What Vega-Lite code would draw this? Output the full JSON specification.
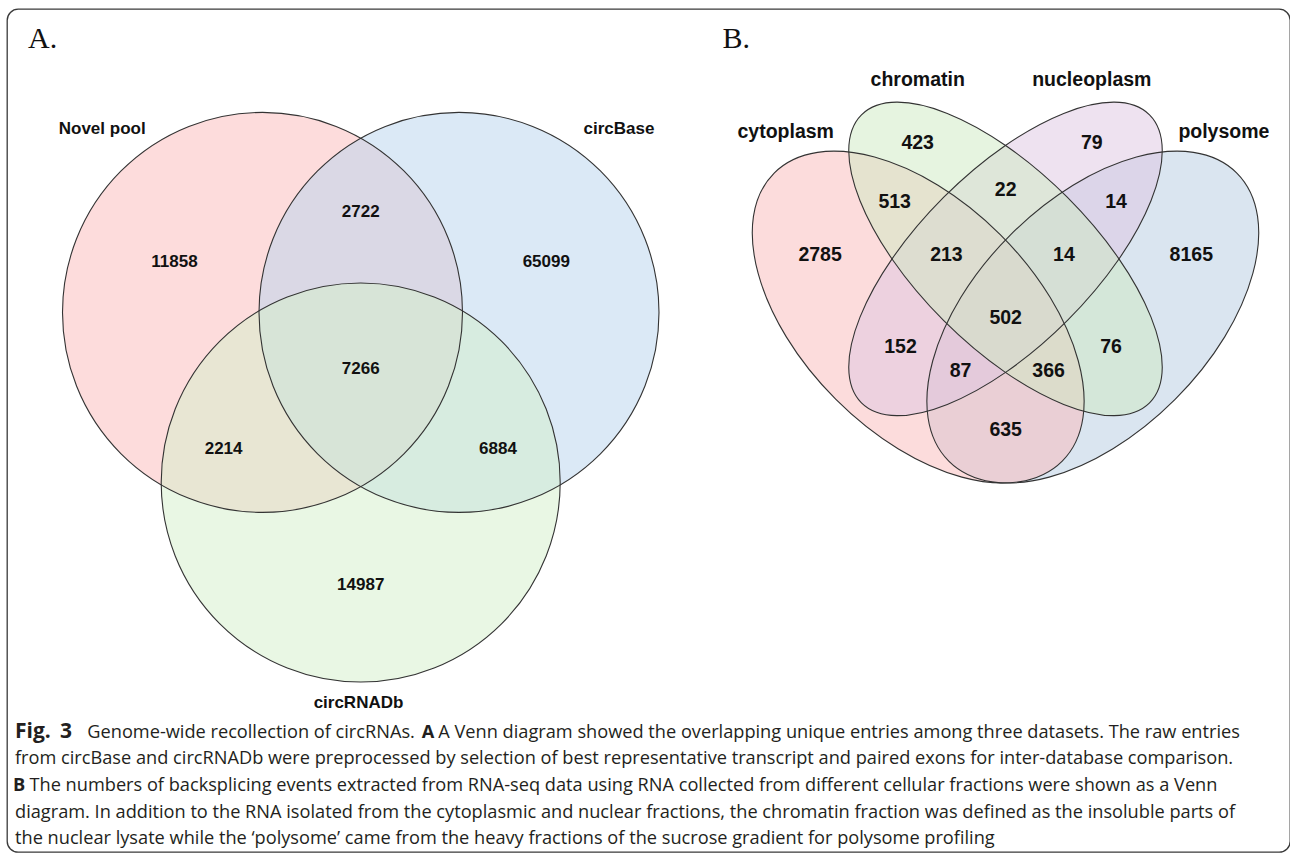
{
  "$schema": "https://vega.github.io/schema/vega-lite/v6.json",
  "width": 1290,
  "height": 856,
  "autosize": {"type": "fit", "contains": "padding"},
  "padding": {"left": 7, "top": 9, "right": 0, "bottom": 4},
  "background": "white",
  "config": {"view": {"stroke": "#3a3a3a", "strokeWidth": 1.3, "cornerRadius": 11}},
  "datasets": {
    "shapes": [
      {"set": "Novel pool", "kind": "circle", "x": 262.5, "y": 312.4, "a": 200, "rot": 0},
      {"set": "circBase", "kind": "circle", "x": 459, "y": 312.4, "a": 200, "rot": 0},
      {"set": "circRNADb", "kind": "circle", "x": 360.7, "y": 482.5, "a": 199.5, "rot": 0},
      {"set": "polysome", "kind": "outer", "x": 1092.8, "y": 317.1, "a": 203.7, "rot": 135},
      {"set": "cytoplasm", "kind": "outer", "x": 918.2, "y": 317.1, "a": 203.7, "rot": 45},
      {"set": "nucleoplasm", "kind": "inner", "x": 1005.5, "y": 258.9, "a": 203.7, "rot": 135},
      {"set": "chromatin", "kind": "inner", "x": 1005.5, "y": 258.9, "a": 203.7, "rot": 45}
    ],
    "labelsA": [
      {"t": "Novel pool", "x": 102.2, "y": 128.6},
      {"t": "circBase", "x": 619, "y": 128.6},
      {"t": "circRNADb", "x": 358.5, "y": 703},
      {"t": "11858", "x": 174.5, "y": 262.2},
      {"t": "2722", "x": 360.7, "y": 211.8},
      {"t": "65099", "x": 546.3, "y": 262.2},
      {"t": "7266", "x": 360.7, "y": 369},
      {"t": "2214", "x": 223.6, "y": 449.2},
      {"t": "6884", "x": 498, "y": 449.2},
      {"t": "14987", "x": 360.7, "y": 584.7}
    ],
    "labelsB": [
      {"t": "chromatin", "x": 917.7, "y": 80},
      {"t": "nucleoplasm", "x": 1091.8, "y": 80},
      {"t": "cytoplasm", "x": 785.7, "y": 131.7},
      {"t": "polysome", "x": 1223.9, "y": 131.7},
      {"t": "423", "x": 917.7, "y": 143.3},
      {"t": "79", "x": 1091.8, "y": 143.3},
      {"t": "22", "x": 1005.7, "y": 190},
      {"t": "513", "x": 894.7, "y": 201.7},
      {"t": "14", "x": 1116, "y": 201.7},
      {"t": "2785", "x": 820.1, "y": 255},
      {"t": "213", "x": 946.4, "y": 255},
      {"t": "14", "x": 1063.9, "y": 255},
      {"t": "8165", "x": 1191.3, "y": 255},
      {"t": "502", "x": 1005.7, "y": 318.3},
      {"t": "152", "x": 900.5, "y": 346.7},
      {"t": "76", "x": 1111, "y": 346.7},
      {"t": "87", "x": 960.6, "y": 370.7},
      {"t": "366", "x": 1048.6, "y": 370.7},
      {"t": "635", "x": 1005.7, "y": 430}
    ],
    "panels": [
      {"t": "A.", "x": 28, "y": 48},
      {"t": "B.", "x": 722.5, "y": 48}
    ],
    "capBig": [
      {"t": "Fig.", "x": 15, "y": 737.7},
      {"t": "3", "x": 60, "y": 737.7}
    ],
    "capBold": [
      {"t": "A", "x": 421.7, "y": 737.7},
      {"t": "B", "x": 13, "y": 791}
    ],
    "capReg": [
      {"t": "Genome-wide recollection of circRNAs.", "x": 87.3, "y": 737.7},
      {"t": "A Venn diagram showed the overlapping unique entries among three datasets. The raw entries", "x": 438.3, "y": 737.7},
      {"t": "from circBase and circRNADb were preprocessed by selection of best representative transcript and paired exons for inter-database comparison.", "x": 15, "y": 764.3},
      {"t": "The numbers of backsplicing events extracted from RNA-seq data using RNA collected from different cellular fractions were shown as a Venn", "x": 29.5, "y": 791},
      {"t": "diagram. In addition to the RNA isolated from the cytoplasmic and nuclear fractions, the chromatin fraction was defined as the insoluble parts of", "x": 15, "y": 817.7},
      {"t": "the nuclear lysate while the ‘polysome’ came from the heavy fractions of the sucrose gradient for polysome profiling", "x": 15, "y": 844.3}
    ]
  },
  "encoding": {
    "x": {"field": "x", "type": "quantitative", "scale": {"domain": [7, 1290], "nice": false, "zero": false}, "axis": null},
    "y": {"field": "y", "type": "quantitative", "scale": {"domain": [9, 852], "nice": false, "zero": false, "reverse": true}, "axis": null}
  },
  "layer": [
    {
      "data": {"name": "shapes"},
      "mark": {"type": "point", "filled": true, "opacity": 1, "fillOpacity": 0.5, "strokeWidth": 0},
      "encoding": {
        "size": {"field": "a", "type": "quantitative", "scale": {"type": "pow", "exponent": 2, "domain": [0, 300], "range": [0, 360000], "nice": false}, "legend": null},
        "angle": {"field": "rot", "type": "quantitative", "scale": {"domain": [0, 360], "range": [0, 360]}},
        "shape": {"field": "kind", "type": "nominal", "scale": {"domain": ["circle", "outer", "inner"], "range": ["circle", "M -1 0 A 1 0.5714 0 1 0 1 0 A 1 0.5714 0 1 0 -1 0 Z", "M -1 0 A 1 0.4286 0 1 0 1 0 A 1 0.4286 0 1 0 -1 0 Z"]}, "legend": null},
        "color": {"field": "set", "type": "nominal", "scale": {"domain": ["Novel pool", "circBase", "circRNADb", "cytoplasm", "chromatin", "nucleoplasm", "polysome"], "range": ["#fbb9b9", "#b7d3ed", "#d3efc9", "#fab9b9", "#cde9c1", "#ddc5e1", "#b5cbe1"]}, "legend": null}
      }
    },
    {
      "data": {"name": "shapes"},
      "mark": {"type": "point", "filled": false, "opacity": 1, "stroke": "#333333", "strokeWidth": 1.1},
      "encoding": {
        "size": {"field": "a", "type": "quantitative", "scale": {"type": "pow", "exponent": 2, "domain": [0, 300], "range": [0, 360000], "nice": false}, "legend": null},
        "angle": {"field": "rot", "type": "quantitative", "scale": {"domain": [0, 360], "range": [0, 360]}},
        "shape": {"field": "kind", "type": "nominal", "scale": {"domain": ["circle", "outer", "inner"], "range": ["circle", "M -1 0 A 1 0.5714 0 1 0 1 0 A 1 0.5714 0 1 0 -1 0 Z", "M -1 0 A 1 0.4286 0 1 0 1 0 A 1 0.4286 0 1 0 -1 0 Z"]}, "legend": null}
      }
    },
    {
      "data": {"name": "labelsA"},
      "mark": {"type": "text", "font": "Liberation Sans", "fontWeight": "bold", "fontSize": 17, "align": "center", "baseline": "middle", "color": "#111111"},
      "encoding": {"text": {"field": "t"}}
    },
    {
      "data": {"name": "labelsB"},
      "mark": {"type": "text", "font": "Liberation Sans", "fontWeight": "bold", "fontSize": 19.5, "align": "center", "baseline": "middle", "color": "#111111"},
      "encoding": {"text": {"field": "t"}}
    },
    {
      "data": {"name": "panels"},
      "mark": {"type": "text", "font": "Liberation Serif", "fontSize": 30, "align": "left", "baseline": "alphabetic", "color": "#111111"},
      "encoding": {"text": {"field": "t"}}
    },
    {
      "data": {"name": "capBig"},
      "mark": {"type": "text", "font": "Open Sans", "fontWeight": "bold", "fontSize": 21, "align": "left", "baseline": "alphabetic", "color": "#231f20"},
      "encoding": {"text": {"field": "t"}}
    },
    {
      "data": {"name": "capBold"},
      "mark": {"type": "text", "font": "Open Sans", "fontWeight": "bold", "fontSize": 18.2, "align": "left", "baseline": "alphabetic", "color": "#231f20"},
      "encoding": {"text": {"field": "t"}}
    },
    {
      "data": {"name": "capReg"},
      "mark": {"type": "text", "font": "Open Sans", "fontSize": 18.2, "align": "left", "baseline": "alphabetic", "color": "#231f20"},
      "encoding": {"text": {"field": "t"}}
    }
  ]
}
